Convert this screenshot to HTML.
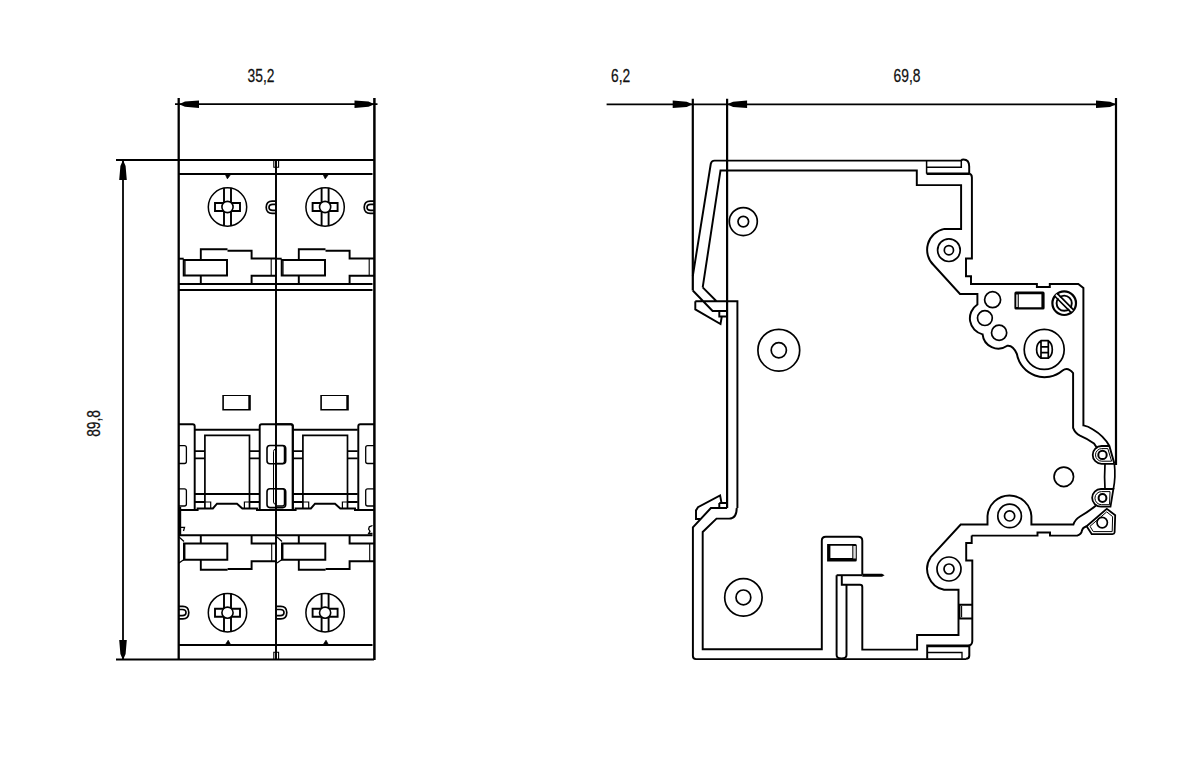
<!DOCTYPE html>
<html><head><meta charset="utf-8"><title>Drawing</title>
<style>
html,body{margin:0;padding:0;background:#fff;width:1200px;height:761px;overflow:hidden}
svg{display:block}
text{font-family:"Liberation Sans",sans-serif;fill:#111;stroke:#111;stroke-width:0.25}
</style></head><body>
<svg width="1200" height="761" viewBox="0 0 1200 761">
<defs>
<clipPath id="sc"><circle cx="0" cy="0" r="19.2"/></clipPath>
<g id="screw">
<circle cx="0" cy="0" r="19.2" fill="none" stroke="#000" stroke-width="1.5"/>
<path clip-path="url(#sc)" d="M-3.5,-20 V-4 H12.5 V4 H3.5 V20 H-3.5 V4 H-12.5 V-4 H-3.5 M3.5,-20 V-4" fill="none" stroke="#000" stroke-width="1.9"/>
<circle cx="0" cy="0" r="5.6" fill="#fff" stroke="#000" stroke-width="1.6"/>
</g>
</defs>
<g fill="none" stroke="#000" stroke-width="1.95">
<!-- LEFT VIEW dimensions -->
<path d="M175,104.2 H377.5" stroke-width="1.8"/>
<path d="M179,104.2 L185,101.60000000000001 L199,100.4 V108.0 L185,106.8 Z M374.5,104.2 L368.5,101.60000000000001 L354.5,100.4 V108.0 L368.5,106.8 Z" fill="#000" stroke="none"/>
<path d="M178.7,98 V660" stroke-width="2.3"/><path d="M374.4,98 V660" stroke-width="2.5"/>
<path d="M116,160 H374 M116,659.5 H374"/>
<path d="M123,160 V660" stroke-width="1.8"/>
<path d="M123,160 L120.4,166 L119.2,180 H126.8 L125.6,166 Z M123,660 L120.4,654 L119.2,640 H126.8 L125.6,654 Z" fill="#000" stroke="none"/>
</g>
<text x="261" y="82" font-size="18.2" text-anchor="middle" transform="translate(261 0) scale(0.76 1) translate(-261 0)">35,2</text>
<text x="0" y="0" font-size="18.2" text-anchor="middle" transform="translate(99.6 423.4) rotate(-90) scale(0.76 1)">89,8</text>

<g fill="none" stroke="#000" stroke-width="1.95">
<!-- body lines -->
<path d="M179,174 H372.5 M179,284 H372.5 M179,290 H372.5 M179,535.3 H372.5 M179,645 H372.5"/>
<path d="M276,160 V660"/>
<path d="M273.8,160.5 V167.3 H278.6 V160.5 M273.8,659 V652.3 H278.6 V659" stroke-width="1.1"/>
<path d="M225.4,174.5 L230.6,174.5 L227.4,178.8 Z M323.2,174.5 L328.4,174.5 L325.2,178.8 Z" fill="#000" stroke-width="0.8"/>
<path d="M225.5,644.5 L230.5,644.5 L228.2,640.3 Z M323.3,644.5 L328.3,644.5 L326,640.3 Z" fill="#000" stroke-width="0.8"/>
</g>
<g id="mod1" fill="none" stroke="#000" stroke-width="1.95">
<!-- top terminal -->
<path d="M179,258.7 H183.7"/>
<path d="M183.7,260 H227 V275.5 H183.7 Z"/>
<path d="M185,260 V275.5" stroke-width="1.2"/>
<path d="M200.8,260 V249.2 H227.5" stroke-width="1.9"/>
<path d="M227.5,250.7 H251.6 V258.5 H276"/>
<path d="M271.2,258.5 V275.7" stroke-width="1.1"/><path d="M276,275.7 H251.6 V284 M200.8,275.5 V284" />
<!-- C shape top -->
<path d="M276,201.2 H272.5 Q266.2,201 266.2,207.3 Q266.2,213.6 272.5,213.4 H276 M276,204.3 H272.8 Q269,204.3 269,207.3 Q269,210.4 272.8,210.4 H276" stroke-width="1.7"/>
<!-- C shape bottom (facing right) -->
<path d="M179,606.4 H182.5 Q188.8,606.2 188.8,612.6 Q188.8,619 182.5,618.8 H179 M179,609.5 H182.2 Q186,609.5 186,612.6 Q186,615.7 182.2,615.7 H179" stroke-width="1.7"/>
<!-- window -->
<path d="M222.3,394.9 H250.8 V410.4 H222.3 Z M223.9,396.1 V408.9 H248.3 V396.1 Z" fill="#000" fill-rule="evenodd" stroke="none"/>
<!-- toggle frame -->
<path d="M179,424.3 H192.7 Q194.7,424.3 194.7,426.3 V509"/>
<path d="M194.7,429.8 H259.7"/>
<path d="M204.9,508.4 V435.3 H249.5 V508.4" stroke-width="1.7"/>
<path d="M194.7,451.2 H204.9 M194.7,458.3 H204.9 M249.5,451.2 H259.7 M249.5,458.3 H259.7" stroke-width="1.7"/>
<path d="M194.7,493.9 H259.7 M194.7,502 H204.9 M249.5,502 H259.7"/>
<path d="M204.9,502 H210.7 V508.4 M249.5,502 H244.4 V508.4" stroke-width="1.2"/>
<path d="M179,510 H197.6 V508.4 H212.9 L217,503.7 H237 L242.3,508.4 H257 V510 H277"/>
<path d="M179,445.7 H184.4 Q186.4,445.7 186.4,447.7 V461.5 Q186.4,463.5 184.4,463.5 H179 M179,488.8 H184.4 Q186.4,488.8 186.4,490.8 V504 Q186.4,506 184.4,506 H179" stroke-width="1.3"/>
<!-- bottom terminal -->
<path d="M200.8,535.5 V543.4"/>
<path d="M184,543.4 H227.3 V559.7 H184 Z"/>
<path d="M200.8,559.7 V569.7 H227.6" stroke-width="1.9"/>
<path d="M227.6,569 H251.6 V561.3 H276"/>
<path d="M271.7,543.4 V561.3" stroke-width="1.1"/><path d="M251.6,535.5 V543.4 H276"/>
<path d="M179,537 L184,541.5 M179,563 L184,559.5" stroke-width="1.3"/><path d="M184.3,543 V560" stroke-width="2.3"/>
</g>
<use href="#mod1" x="98" y="0"/>
<g fill="none" stroke="#000" stroke-width="1.95">
<path d="M180,507 V535" stroke-width="2.4"/><path d="M180,527.3 H184.5 L183.5,531" stroke-width="1.3"/>
<path d="M372.5,525.5 L369.3,526.8 L368.6,529.2 L370,531.2 L368.6,533.5 H372.5" stroke-width="1.3"/>
<!-- middle tab -->
<path d="M259.7,509 V426.3 Q259.7,424.3 261.7,424.3 H290.9 Q292.9,424.3 292.9,426.3 V509"/>
<path d="M358.3,509 V426.3 Q358.3,424.3 360.3,424.3 H374"/>
<path d="M267,448.5 Q267,445.5 270,445.5 H282.7 Q285.7,445.5 285.7,448.5 V460.7 Q285.7,463.7 282.7,463.7 H270 Q267,463.7 267,460.7 Z M267,491.7 Q267,488.7 270,488.7 H282.7 Q285.7,488.7 285.7,491.7 V504.6 Q285.7,507.6 282.7,507.6 H270 Q267,507.6 267,504.6 Z" stroke-width="1.6"/>
<path d="M276,449 Q273.5,449 273.5,451.5 V502 Q273.5,504.3 276,504.3" stroke-width="1.0"/>
<path d="M374,445.7 H367.7 Q365.7,445.7 365.7,447.7 V461.5 Q365.7,463.5 367.7,463.5 H374 M374,488.8 H367.7 Q365.7,488.8 365.7,490.8 V504 Q365.7,506 367.7,506 H374" stroke-width="1.3"/>
</g>
<use href="#screw" x="227.5" y="207"/>
<use href="#screw" x="325.1" y="207"/>
<use href="#screw" x="227.5" y="612.7"/>
<use href="#screw" x="325.1" y="612.7"/>

<!-- SIDE VIEW -->
<g fill="none" stroke="#000" stroke-width="1.95">
<path d="M606.6,104.3 H1116" stroke-width="1.8"/>
<path d="M692.7,104.3 L686.7,101.7 L672.7,100.5 V108.1 L686.7,106.89999999999999 Z M727.1,104.3 L733.1,101.7 L747.1,100.5 V108.1 L733.1,106.89999999999999 Z M1116,104.3 L1110,101.7 L1096,100.5 V108.1 L1110,106.89999999999999 Z" fill="#000" stroke="none"/>
<path d="M692.8,98.7 V290.5 M727.1,98.7 V508 M1116,98 V465" stroke-width="2.2"/>
<!-- outer top -->
<path d="M692.8,276 L710.8,163.8 Q711.5,160.6 714.5,160.6 H961 Q962,159.5 963.5,159.5 Q969.2,159.5 969.2,166.5 V173.7"/>
<path d="M926.6,160.6 V173.7 M926.6,167.2 H961.3 V160.6" stroke-width="1.5"/>
<path d="M926.6,173.7 H969.5" stroke-width="2.4"/>
<path d="M969.2,173.7 Q971.9,174 971.9,177.5 V258.5 H966 V276.2 H971 V283.9 H1036.9 V286.9 H1049.8 V284 H1078.3 L1083.4,288 V425.4 Q1088,426.2 1093,429.5 Q1104,436 1109.4,446 L1114.4,463.8"/>
<!-- inner top -->
<path d="M702.7,287.4 L720.5,170.4 H916.8 V185.1 H961.1 V228.9 H944.4 A21.3,21.3 0 0 0 933.8,265.3 L960,293.9 H977.4 V304.5 A16.5,16.5 0 0 0 982.6,334.4 A15.8,15.8 0 0 0 1007.3,345.8 Q1013,345 1016.9,354 A28,28 0 0 0 1062.6,370.5 Q1067.8,366.5 1073.1,373.1 V427.8 Q1075,433 1080,435.6 Q1088,439 1094,443.5 L1097.2,448.3" />

<!-- top latch -->
<path d="M692.8,290.5 L712.6,311 H727.1 M702.7,287.4 L716.5,301.2 H737.4 V508 M695.3,301.2 H716.5"/>
<path d="M695.3,301.2 V309.4 L720.5,324 L721.8,316.5 M719.3,311 V316.5 H727.1"/>
<!-- bottom latch -->
<path d="M727.1,508 H710.9 L692.9,527.3 V656 Q692.9,659.1 696,659.1 H966"/>
<path d="M736.7,508 Q736.7,518.6 729.2,518.6 H716.5 L702.7,532 V649.2 H821.8 V540.8 Q821.8,536.8 825.8,536.8 H858.3 Q862.3,536.8 862.3,540.8 V574.7"/>
<path d="M700,519 H696 V510.4 L698,507.2 L720.1,495.4 L721.5,502.9 M719.3,502.9 H727.1 M719.3,502.9 V508"/>
<!-- lower inner piece -->
<path d="M836.6,575.2 H862.3" />
<path d="M862.3,573.7 H882 L884.6,575.2 L882,576.7 H862.3 Z" stroke="none" fill="#000"/>
<path d="M836.6,575.2 V655 Q836.6,658.5 841.5,658.5 Q846.5,658.5 846.5,655 V584.7 H841.8 V575.2 M846.5,584.7 H860 Q862.3,584.7 862.3,587 V649.6 H917.1 V634.9 H958.5 V589.8 H944.1 A21.3,21.3 0 0 1 930.7,557.2 L960.7,524.5 H987.5 V516 A22,22 0 0 1 1031.4,516 V524.5 H1073.4 Q1075,519.5 1080,516.5 Q1088,512 1096,505.5"/>
<path d="M971.7,535.6 H1037.5 V532.4 H1050 V535.6 H1077.2 Q1081.6,534 1081.8,531 Q1082.5,527.5 1086.6,526.2"/>
<path d="M971.7,535.6 V543 H966.2 V560.4 H972.3 V641 Q972.3,645.5 968,645.5 H927.2 V658.8"/>
<path d="M927.2,646.3 H969.3 V655.5 Q969.3,658.8 966,658.8" stroke-width="2"/>
<path d="M927.2,652.5 H962 V658.8" stroke-width="1.3"/>
<!-- windows -->
<path d="M827.1,543.9 H855.5 Q856.8,543.9 856.8,545.5 V560 Q856.8,561.6 855.5,561.6 H827.1 Z M830.4,545.7 V558.1 H852.3 V545.7 Z" fill="#000" fill-rule="evenodd" stroke="none"/>
<path d="M853.3,546 V558.5 H855.8 V546 Z" fill="#ddd" stroke="none"/>
<path d="M1016,291.5 H1043 Q1044.6,291.5 1044.6,293.2 V308 Q1044.6,309.5 1043,309.5 H1016 Q1014.4,309.5 1014.4,308 V293.2 Q1014.4,291.5 1016,291.5 Z M1018.8,294.3 V307.2 H1041.4 V294.3 Z" fill="#000" fill-rule="evenodd" stroke="none"/>
<path d="M1016.2,294.5 V307 H1017.8 V294.5 Z" fill="#ddd" stroke="none"/>
<path d="M972.3,604.7 H959.5 V618.5 H972.3" stroke-width="1.9"/>
<path d="M961.6,606 V617.2" stroke-width="1.1"/>
</g>
<!-- circles -->
<g fill="none" stroke="#000" stroke-width="1.7">
<circle cx="743.3" cy="221.6" r="14"/><circle cx="743.3" cy="221.6" r="5.3"/>
<circle cx="778.8" cy="350.2" r="20.9"/><circle cx="778.8" cy="350.2" r="7.6"/>
<circle cx="948.9" cy="250.2" r="11.3"/><circle cx="948.9" cy="250.2" r="4.6"/>
<circle cx="992.6" cy="299.7" r="8"/><circle cx="984.9" cy="318.1" r="7.4"/><circle cx="999.1" cy="332.8" r="7.6"/>
<circle cx="1064.2" cy="303.2" r="11.8" stroke-width="2.2"/><circle cx="1064.2" cy="303.2" r="7.6" stroke-width="1.9"/>
<path d="M1055.2,295.2 L1071.8,311.8 L1073,310.4 L1056.6,294 Z" fill="#fff" stroke="none"/>
<path d="M1054.6,296 L1071.2,312.6 M1057.2,293.4 L1073.6,309.8" stroke-width="1.7"/>
<circle cx="1044.2" cy="349.4" r="20"/>
<path d="M1041,340.7 H1048.3 Q1052.3,343.5 1052.3,349.4 Q1052.3,355.5 1048.3,358.2 H1041 Q1036.6,355.5 1036.6,349.4 Q1036.6,343.5 1041,340.7 Z M1041,340.7 V358.2 M1048.3,340.7 V358.2 M1041,346.8 H1048.3 M1041,352.6 H1048.3" stroke-width="1.7"/>
<circle cx="1063.8" cy="476.8" r="9.75"/>
<circle cx="1009.6" cy="515.9" r="11.8"/><circle cx="1009.6" cy="515.9" r="5.1"/>
<circle cx="949" cy="569" r="12"/><circle cx="949" cy="569" r="5"/>
<circle cx="743.4" cy="597.4" r="18.7"/><circle cx="743.4" cy="597.4" r="7.4"/>
</g>
<!-- hooks -->
<g fill="none" stroke="#000" stroke-width="1.7">
<path d="M1109.4,446 H1101.6 A8.9,8.9 0 0 0 1101.6,463.8 H1114.4" stroke-width="1.8"/>
<path d="M1107.8,448.6 H1101.8 A6.3,6.3 0 0 0 1101.8,461.2 H1111.6 Z" stroke-width="1"/>
<circle cx="1102.5" cy="454.9" r="4.2" stroke-width="2"/>
<path d="M1105,463.8 Q1104.2,477 1105,489 M1114.4,463.8 Q1115.8,477 1113.4,489"/>
<path d="M1113.4,489 H1101 A8.85,8.85 0 0 0 1101,506.7 H1110.5 Z" stroke-width="1.8"/>
<path d="M1110,491.6 H1101.5 A6.5,6.5 0 0 0 1101.5,504.7 H1109.5 Z" stroke-width="1"/>
<circle cx="1102.5" cy="498" r="3.9" stroke-width="2"/>
<path d="M1086.6,526.2 L1106.8,508.8 L1115.2,515.3 L1114.6,532.5 Q1114.4,534.1 1112.5,534.1 H1091.7 Z" stroke-width="1.8"/>
<path d="M1090,526.3 L1106.7,511.9 L1112.6,516.6 L1112.2,531.6 H1093.3 Z" stroke-width="1"/>
<circle cx="1102.2" cy="522.6" r="5.2" stroke-width="1.7"/>

</g>
<text x="620.7" y="81.6" font-size="18.2" text-anchor="middle" transform="translate(620.7 0) scale(0.76 1) translate(-620.7 0)">6,2</text>
<text x="907" y="81.6" font-size="18.2" text-anchor="middle" transform="translate(907 0) scale(0.76 1) translate(-907 0)">69,8</text>
</svg>
</body></html>
